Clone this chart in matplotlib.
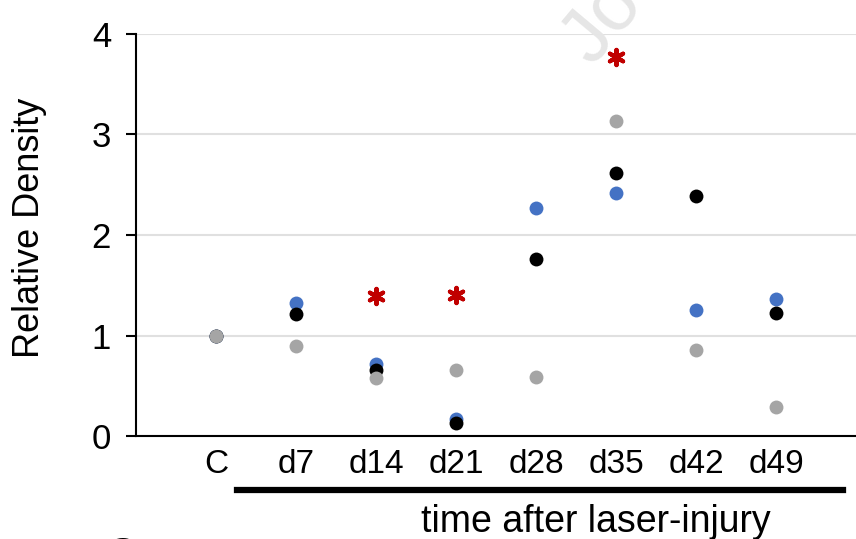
import numpy as np
import matplotlib
matplotlib.use("Agg")
import matplotlib.pyplot as plt

plt.rcParams['font.family'] = ['Liberation Sans', 'DejaVu Sans']

# data
categories = ['C', 'd7', 'd14', 'd21', 'd28', 'd35', 'd42', 'd49']
blue_vals = [1.00, 1.32, 0.72, 0.17, 2.27, 2.42, 1.25, 1.36]
black_vals = [1.00, 1.21, 0.66, 0.13, 1.76, 2.62, 2.39, 1.22]
grey_vals = [1.00, 0.90, 0.58, 0.66, 0.59, 3.13, 0.86, 0.29]
star_cats = ['d14', 'd21', 'd35']
star_vals = [1.39, 1.40, 3.77]

x = np.arange(len(categories))
fig = plt.figure(figsize=(8.56, 5.39), dpi=100)
ax = fig.add_axes([0.159, 0.191, 0.841, 0.746])

ax.scatter(x, blue_vals, s=100, color='#4472c4', zorder=3, linewidths=0)
ax.scatter(x, black_vals, s=100, color='#000000', zorder=4, linewidths=0)
ax.scatter(x, grey_vals, s=100, color='#a5a5a5', zorder=5, linewidths=0)

star_x = [categories.index(c) for c in star_cats]
ax.scatter(star_x, star_vals, marker=(6, 2, 0), s=120, color='#c00000',
           linewidths=3, zorder=6)

ax.set_xlim(-1, 8)
ax.set_ylim(0, 4)
ax.set_yticks([0, 1, 2, 3, 4])
ax.yaxis.grid(True, color='#e0e0e0', linewidth=1.5)
ax.set_axisbelow(True)
ax.set_xticks(x)
ax.set_xticklabels(categories)
ax.tick_params(axis='x', length=0, labelsize=24, pad=9)
ax.tick_params(axis='y', length=7, width=1.5, labelsize=25, pad=11, direction='out')
for s in ['top', 'right']:
    ax.spines[s].set_visible(False)
ax.spines['left'].set_linewidth(1.5)
ax.spines['bottom'].set_linewidth(1.5)
ax.set_ylabel('Relative Density', fontsize=26)
ax.yaxis.set_label_coords(-0.124, 0.517)

# bracket line and label under the time points
fig.add_artist(plt.Line2D([237 / 856, 843 / 856], [1 - 490 / 539, 1 - 490 / 539],
                          color='black', linewidth=4.5))
fig.text(596 / 856, 1 - 522 / 539, 'time after laser-injury', fontsize=27,
         ha='center', va='center')

# faint watermark and cut-off panel letter
fig.text(592 / 856, 1 - 66 / 539, 'Journal', fontsize=56, color='#e6e6e6',
         rotation=50, rotation_mode='anchor', ha='left', va='baseline', zorder=0)
fig.text(121 / 856, 1 - 556 / 539, 'C', fontsize=30, fontweight='bold',
         ha='center', va='center')

fig.savefig('out.png', dpi=100)
